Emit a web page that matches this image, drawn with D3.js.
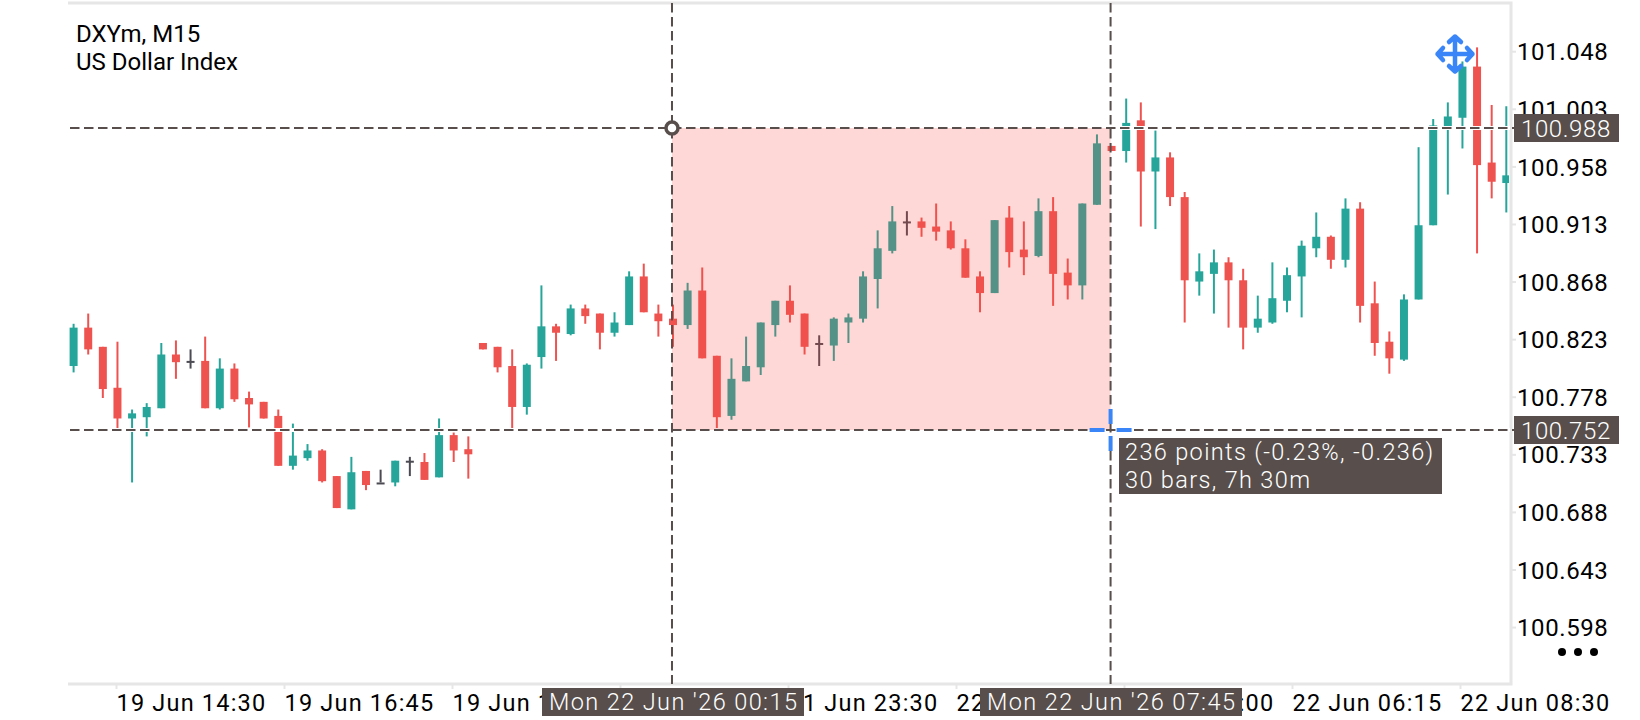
<!DOCTYPE html>
<html>
<head>
<meta charset="utf-8">
<title>DXYm M15</title>
<script src="https://cdnjs.cloudflare.com/ajax/libs/d3/7.8.5/d3.min.js"></script>
<style>
    html, body { margin: 0; padding: 0; background: #fff; }
    svg { display: block; }
    text { font-family: Roboto, sans-serif; }
</style>
</head>
<body>
<div id="chart"></div>
<script>
// Candles, one entry per M15 bar, values in index points
var opens = [
    100.802, 100.832, 100.817, 100.785, 100.761, 100.762, 100.769, 100.811, 100.806, 100.806,
    100.769, 100.800, 100.777, 100.774, 100.763, 100.724, 100.730, 100.736, 100.716, 100.690,
    100.720, 100.711, 100.711, 100.728, 100.727, 100.715, 100.748, 100.737, 100.820, 100.817,
    100.802, 100.770, 100.809, 100.833, 100.827, 100.847, 100.843, 100.828, 100.834, 100.872,
    100.843, 100.839, 100.834, 100.861, 100.810, 100.763, 100.790, 100.801, 100.834, 100.853,
    100.843, 100.820, 100.818, 100.836, 100.839, 100.870, 100.892, 100.915, 100.915, 100.911,
    100.908, 100.894, 100.872, 100.859, 100.918, 100.893, 100.888, 100.923, 100.875, 100.865,
    100.928, 100.974, 100.970, 100.994, 100.954, 100.965, 100.934, 100.868, 100.874, 100.883,
    100.869, 100.832, 100.836, 100.853, 100.872, 100.894, 100.903, 100.885, 100.925, 100.851,
    100.821, 100.807, 100.854, 100.912, 100.988, 100.996, 101.036, 100.961, 100.945
];
var highs = [
    100.835, 100.843, 100.817, 100.821, 100.768, 100.773, 100.820, 100.822, 100.815, 100.825,
    100.808, 100.804, 100.782, 100.774, 100.768, 100.757, 100.741, 100.737, 100.716, 100.731,
    100.720, 100.721, 100.728, 100.731, 100.734, 100.761, 100.750, 100.747, 100.820, 100.817,
    100.815, 100.804, 100.865, 100.835, 100.850, 100.850, 100.843, 100.844, 100.876, 100.882,
    100.850, 100.850, 100.867, 100.879, 100.810, 100.808, 100.825, 100.836, 100.853, 100.865,
    100.843, 100.826, 100.840, 100.843, 100.876, 100.908, 100.927, 100.923, 100.918, 100.929,
    100.915, 100.901, 100.876, 100.916, 100.927, 100.915, 100.933, 100.934, 100.886, 100.929,
    100.983, 100.974, 101.011, 101.008, 100.986, 100.969, 100.938, 100.890, 100.893, 100.887,
    100.878, 100.857, 100.883, 100.879, 100.900, 100.922, 100.904, 100.933, 100.930, 100.868,
    100.829, 100.858, 100.973, 100.995, 101.008, 101.040, 101.051, 101.006, 101.005
];
var lows = [
    100.797, 100.811, 100.777, 100.752, 100.711, 100.747, 100.769, 100.792, 100.800, 100.769,
    100.768, 100.774, 100.754, 100.761, 100.724, 100.721, 100.728, 100.711, 100.691, 100.690,
    100.705, 100.711, 100.708, 100.716, 100.713, 100.715, 100.727, 100.714, 100.815, 100.797,
    100.753, 100.764, 100.800, 100.806, 100.826, 100.835, 100.815, 100.825, 100.834, 100.844,
    100.825, 100.817, 100.831, 100.808, 100.752, 100.760, 100.790, 100.795, 100.825, 100.836,
    100.811, 100.802, 100.806, 100.820, 100.836, 100.847, 100.890, 100.904, 100.903, 100.900,
    100.893, 100.871, 100.844, 100.859, 100.879, 100.873, 100.887, 100.849, 100.854, 100.854,
    100.928, 100.970, 100.961, 100.911, 100.909, 100.927, 100.836, 100.857, 100.843, 100.832,
    100.815, 100.828, 100.835, 100.844, 100.840, 100.887, 100.878, 100.879, 100.836, 100.810,
    100.796, 100.806, 100.854, 100.912, 100.936, 100.972, 100.890, 100.933, 100.922
];
var closes = [
    100.832, 100.815, 100.784, 100.761, 100.765, 100.770, 100.811, 100.805, 100.806, 100.769,
    100.800, 100.776, 100.772, 100.761, 100.724, 100.732, 100.736, 100.712, 100.691, 100.719,
    100.709, 100.711, 100.728, 100.728, 100.713, 100.748, 100.736, 100.733, 100.815, 100.801,
    100.770, 100.803, 100.833, 100.828, 100.847, 100.841, 100.828, 100.836, 100.872, 100.844,
    100.837, 100.834, 100.861, 100.808, 100.762, 100.792, 100.802, 100.836, 100.853, 100.842,
    100.817, 100.820, 100.839, 100.840, 100.872, 100.894, 100.915, 100.915, 100.910, 100.907,
    100.894, 100.871, 100.859, 100.916, 100.891, 100.887, 100.923, 100.874, 100.865, 100.929,
    100.976, 100.970, 100.992, 100.954, 100.965, 100.934, 100.869, 100.876, 100.883, 100.869,
    100.832, 100.839, 100.855, 100.873, 100.896, 100.903, 100.885, 100.925, 100.849, 100.820,
    100.808, 100.854, 100.912, 100.990, 100.997, 101.036, 100.959, 100.946, 100.951
];

// Axis labels
var priceTicks = [101.048, 101.003, 100.958, 100.913, 100.868, 100.823, 100.778, 100.733, 100.688, 100.643, 100.598];
var timeTicks = ["19 Jun 14:30", "19 Jun 16:45", "19 Jun 19:00", "19 Jun 21:15", "21 Jun 23:30", "22 Jun 01:45", "22 Jun 04:00", "22 Jun 06:15", "22 Jun 08:30"];

// Header and measuring tool
var titleLines = ["DXYm, M15", "US Dollar Index"];
var measurePrices = [100.988, 100.752];
var measureBars = [41, 71];
var measureTimes = ["Mon 22 Jun '26 00:15", "Mon 22 Jun '26 07:45"];
var measureInfo = ["236 points (-0.23%, -0.236)", "30 bars, 7h 30m"];

var width = 1640,
    height = 720,
    margin = { top: 3, right: 129, bottom: 36, left: 68 },
    chartRight = width - margin.right,
    chartBottom = height - margin.bottom;

var green = "#26a69a",
    red = "#ef5350",
    zone = "#fb4f45",
    doji = "#4c4a52",
    tagFill = "#584f4c",
    borderColor = "#e6e6e6",
    toolBlue = "#3a86f8";

// SVG Definition:
var svg = d3.select("#chart")
    .append("svg")
    .attr("width", width)
    .attr("height", height);

svg.append("clipPath").attr("id", "plot-clip")
    .append("rect")
    .attr("x", margin.left)
    .attr("y", margin.top)
    .attr("width", chartRight - 2 - margin.left)
    .attr("height", chartBottom - margin.top);

// Scales:
var x = d3.scaleLinear()
    .domain([0, opens.length - 1])
    .range([73.6, 1506.3]);

var y = d3.scaleLinear()
    .domain([100.988, 100.752])
    .range([128, 430]);

var xTime = d3.scalePoint()
    .domain(timeTicks)
    .range([116, 1460]);

// Plot border:
svg.append("path")
    .attr("d", "M" + margin.left + "," + margin.top + "H" + chartRight + "V" + chartBottom + "H" + margin.left)
    .attr("fill", "none")
    .attr("stroke", borderColor)
    .attr("stroke-width", 3);

// Candles:
function candleColor(i) {
    if (closes[i] > opens[i]) return green;
    if (closes[i] < opens[i]) return red;
    return doji;
}

var candle = svg.append("g")
    .attr("clip-path", "url(#plot-clip)")
    .selectAll(".candle")
    .data(d3.range(opens.length))
    .enter().append("g")
    .attr("class", "candle")
    .attr("fill", candleColor)
    .attr("stroke", candleColor);

candle.append("line")
    .attr("x1", function (i) { return x(i); })
    .attr("x2", function (i) { return x(i); })
    .attr("y1", function (i) { return y(highs[i]); })
    .attr("y2", function (i) { return y(lows[i]); })
    .attr("stroke-width", 2);

candle.append("rect")
    .attr("x", function (i) { return x(i) - 4; })
    .attr("y", function (i) { return y(Math.max(opens[i], closes[i])); })
    .attr("width", 8)
    .attr("height", function (i) { return Math.max(2, Math.abs(y(opens[i]) - y(closes[i]))); })
    .attr("stroke", "none");

// White halo under the horizontal measure lines:
svg.selectAll(".halo")
    .data(measurePrices)
    .enter().append("line")
    .attr("class", "halo")
    .attr("x1", margin.left)
    .attr("x2", chartRight - 1)
    .attr("y1", function (d) { return y(d); })
    .attr("y2", function (d) { return y(d); })
    .attr("stroke", "#fff")
    .attr("stroke-width", 4);

// Measured range (sits over the candles and tints them):
svg.append("rect")
    .attr("x", x(measureBars[0]) - 1)
    .attr("y", y(measurePrices[0]))
    .attr("width", x(measureBars[1]) - x(measureBars[0]))
    .attr("height", y(measurePrices[1]) - y(measurePrices[0]))
    .attr("fill", zone)
    .attr("fill-opacity", 0.22);

// Right Axis:
var yAxis = svg.append("g")
    .attr("transform", "translate(" + (chartRight + 1) + ",0)")
    .call(d3.axisRight(y)
        .tickValues(priceTicks)
        .tickFormat(d3.format(".3f"))
        .tickSize(4)
        .tickPadding(1));
yAxis.select(".domain").remove();
yAxis.selectAll("line").attr("stroke", borderColor).attr("stroke-width", 2);
yAxis.selectAll("text")
    .attr("font-size", 24)
    .attr("letter-spacing", 0.6)
    .attr("dy", "0.36em")
    .attr("fill", "#000");

// Bottom Axis:
var xAxis = svg.append("g")
    .attr("transform", "translate(0," + (chartBottom + 1) + ")")
    .call(d3.axisBottom(xTime).tickSize(4));
xAxis.select(".domain").remove();
xAxis.selectAll("line").attr("stroke", borderColor).attr("stroke-width", 2);
xAxis.selectAll("text")
    .attr("font-size", 23.5)
    .attr("letter-spacing", 1.2)
    .attr("fill", "#000")
    .attr("text-anchor", "start")
    .attr("x", 0)
    .attr("y", 26)
    .attr("dy", 0);

// Dashed measure lines:
svg.selectAll(".measure-h")
    .data(measurePrices)
    .enter().append("line")
    .attr("class", "measure-h")
    .attr("x1", 70)
    .attr("x2", chartRight + 3)
    .attr("y1", function (d) { return y(d); })
    .attr("y2", function (d) { return y(d); })
    .attr("stroke", tagFill)
    .attr("stroke-width", 2)
    .attr("stroke-dasharray", "9.5,4.5");

svg.selectAll(".measure-v")
    .data(measureBars)
    .enter().append("line")
    .attr("class", "measure-v")
    .attr("x1", function (d) { return x(d) - 1; })
    .attr("x2", function (d) { return x(d) - 1; })
    .attr("y1", margin.top)
    .attr("y2", chartBottom)
    .attr("stroke", tagFill)
    .attr("stroke-width", 2)
    .attr("stroke-dasharray", "9.5,4.5");

// Price tags:
var priceTag = svg.selectAll(".price-tag")
    .data(measurePrices)
    .enter().append("g")
    .attr("class", "price-tag")
    .attr("transform", function (d) { return "translate(" + (chartRight + 3) + "," + y(d) + ")"; });

priceTag.append("rect")
    .attr("y", -14)
    .attr("width", 105)
    .attr("height", 28)
    .attr("fill", tagFill);

priceTag.append("text")
    .attr("x", 7)
    .attr("y", 9)
    .attr("font-size", 24)
    .attr("letter-spacing", 0.6)
    .attr("font-weight", 300)
    .attr("fill", "#fff")
    .text(d3.format(".3f"));

// Time tags:
var timeTag = svg.selectAll(".time-tag")
    .data(measureBars)
    .enter().append("g")
    .attr("class", "time-tag")
    .attr("transform", function (d, i) { return "translate(" + (i == 0 ? 542 : 980) + ",688)"; });

timeTag.append("rect")
    .attr("width", 262)
    .attr("height", 28)
    .attr("fill", tagFill);

timeTag.append("text")
    .attr("x", 7)
    .attr("y", 22)
    .attr("font-size", 23.5)
    .attr("letter-spacing", 1.4)
    .attr("font-weight", 300)
    .attr("fill", "#fff")
    .text(function (d, i) { return measureTimes[i]; });

// Info box next to the cursor:
svg.append("rect")
    .attr("x", 1119)
    .attr("y", 438)
    .attr("width", 323)
    .attr("height", 56)
    .attr("fill", tagFill);

svg.selectAll(".info")
    .data(measureInfo)
    .enter().append("text")
    .attr("class", "info")
    .attr("x", 1125)
    .attr("y", function (d, i) { return 460 + i * 28; })
    .attr("font-size", 23.5)
    .attr("letter-spacing", 1.35)
    .attr("font-weight", 300)
    .attr("fill", "#fff")
    .text(function (d) { return d; });

// Start point handle:
svg.append("circle")
    .attr("cx", x(measureBars[0]) - 1)
    .attr("cy", y(measurePrices[0]))
    .attr("r", 6)
    .attr("fill", "#fff")
    .attr("stroke", tagFill)
    .attr("stroke-width", 3.5);

// Blue cursor at the end point:
var cursor = svg.append("g")
    .attr("transform", "translate(" + (x(measureBars[1]) - 1) + "," + y(measurePrices[1]) + ")")
    .attr("stroke", toolBlue)
    .attr("stroke-width", 4);
[[-21, -6, 0, 0], [6, 21, 0, 0], [0, 0, -21, -6], [0, 0, 6, 21]].forEach(function (s) {
    cursor.append("line").attr("x1", s[0]).attr("x2", s[1]).attr("y1", s[2]).attr("y2", s[3]);
});

// Move icon:
svg.append("path")
    .attr("transform", "translate(1455,54)")
    .attr("d", "M-17.5,0H17.5M0,-17.5V17.5M-12,-6L-17.5,0L-12,6M12,-6L17.5,0L12,6M-6,-12L0,-17.5L6,-12M-6,12L0,17.5L6,12")
    .attr("fill", "none")
    .attr("stroke", toolBlue)
    .attr("stroke-width", 4.5)
    .attr("stroke-linecap", "round")
    .attr("stroke-linejoin", "round");

// Title:
svg.selectAll(".title")
    .data(titleLines)
    .enter().append("text")
    .attr("class", "title")
    .attr("x", 76)
    .attr("y", function (d, i) { return 42 + i * 28; })
    .attr("font-size", 24)
    .attr("fill", "#000")
    .text(function (d) { return d; });

// Menu dots:
svg.selectAll(".dot")
    .data([1562, 1578, 1594])
    .enter().append("circle")
    .attr("class", "dot")
    .attr("cx", function (d) { return d; })
    .attr("cy", 652)
    .attr("r", 4)
    .attr("fill", "#000");
</script>
</body>
</html>
